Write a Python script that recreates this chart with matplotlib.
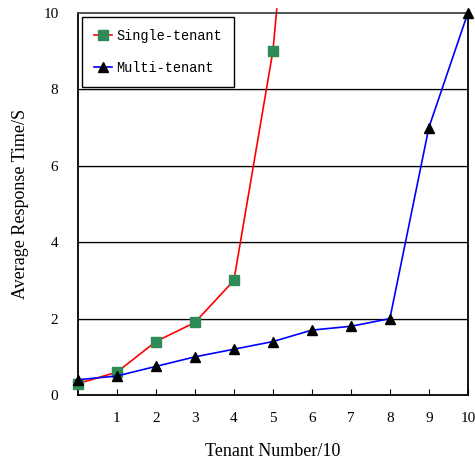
import matplotlib
matplotlib.use("Agg")
import matplotlib.pyplot as plt

# data
tenants = [0, 1, 2, 3, 4, 5, 6, 7, 8, 9, 10]
single_x = [0, 1, 2, 3, 4, 5]
single_y = [0.3, 0.6, 1.4, 1.9, 3.0, 9.0]
# the red line runs on past the top edge
single_tail_x = [5, 5.1]
single_tail_y = [9.0, 10.1]
multi_y = [0.4, 0.5, 0.75, 1.0, 1.2, 1.4, 1.7, 1.8, 2.0, 7.0, 10.0]
y_ticks = [0, 2, 4, 6, 8, 10]
x_ticks = [1, 2, 3, 4, 5, 6, 7, 8, 9, 10]

plt.rcParams['font.family'] = ['Liberation Serif', 'DejaVu Serif']

fig = plt.figure(figsize=(4.75, 4.61), dpi=100)
ax = fig.add_axes([0.164, 0.143, 0.821, 0.829])

# horizontal grid, black line with light grey shadow
for y in [2, 4, 6, 8]:
    ax.axhline(y - 0.03, color='#d8d8d8', lw=1.2, zorder=1)
    ax.axhline(y, color='black', lw=0.9, zorder=1)

ax.plot(single_tail_x, single_tail_y, color='red', lw=1.2, clip_on=False, zorder=2)
ax.plot(single_x, single_y, color='red', lw=1.2, marker='s', ms=7,
        mfc='#2e8b57', mec='#2e8b57', label='Single-tenant', zorder=3, clip_on=False)
ax.plot(tenants, multi_y, color='blue', lw=1.2, marker='^', ms=7,
        mfc='black', mec='black', label='Multi-tenant', zorder=3, clip_on=False)

ax.set_xlim(0, 10)
ax.set_ylim(0, 10)
ax.set_xticks(x_ticks)
ax.set_yticks(y_ticks)
ax.tick_params(axis='x', direction='in', length=4, pad=12, labelsize=11)
ax.tick_params(axis='y', length=0, pad=14, labelsize=11)
for s in ax.spines.values():
    s.set_linewidth(1.3)
ax.spines['top'].set_color('#444444')

ax.set_xlabel('Tenant Number/10', fontsize=13, labelpad=13)
ax.set_ylabel('Average Response Time/S', fontsize=13, labelpad=10)

leg = ax.legend(loc='upper left', bbox_to_anchor=(0.01, 0.99), borderaxespad=0,
                prop={'family': 'Liberation Mono', 'size': 9.8},
                fancybox=False, edgecolor='black', framealpha=1, handlelength=1.3,
                labelspacing=1.3, borderpad=0.9, handletextpad=0.35)
leg.get_frame().set_linewidth(1.0)

fig.savefig('out.png', dpi=100)
